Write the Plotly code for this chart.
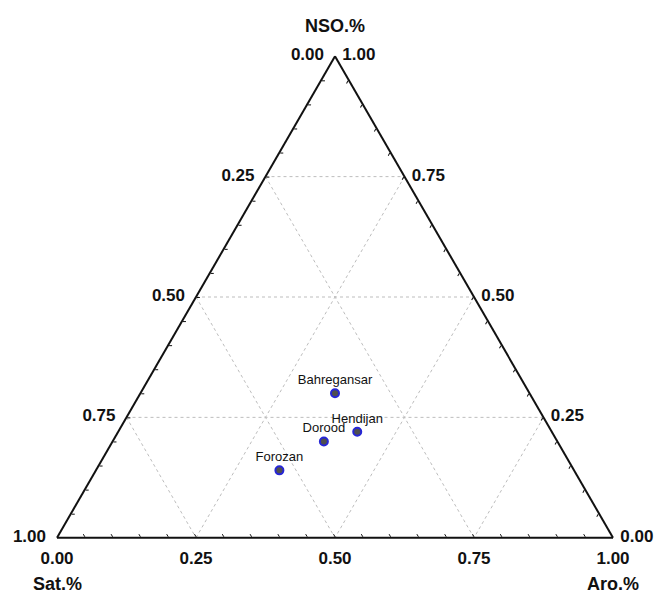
import plotly.graph_objects as go

# Oil fraction composition (fractions of 1)
samples = ["Bahregansar", "Hendijan", "Dorood", "Forozan"]
nso = [0.30, 0.22, 0.20, 0.14]
sat = [0.35, 0.35, 0.42, 0.53]
aro = [0.35, 0.43, 0.38, 0.33]

# Axis scaling
grid_levels = [0.25, 0.50, 0.75]
label_levels = [0.00, 0.25, 0.50, 0.75, 1.00]
tick_step = 0.05

FONT = "Liberation Sans, Arial, sans-serif"
INK = "#111111"
TICK_SIZE = 17

n_ticks = int(round(1 / tick_step)) + 1
tick_vals = [round(i * tick_step, 2) for i in range(n_ticks)]


def tick_labels(pad_before="", pad_after=""):
    out = []
    for v in tick_vals:
        if any(abs(v - q) < 1e-9 for q in label_levels):
            out.append(f"{pad_before}{1 - v:.2f}{pad_after}")
        else:
            out.append("")
    return out


# Dotted grid lines at the quarter levels, one segment per level and axis
ga, gb, gc = [], [], []
for v in grid_levels:
    # constant NSO
    ga += [v, v, None]
    gb += [1 - v, 0, None]
    gc += [0, 1 - v, None]
    # constant Sat
    ga += [1 - v, 0, None]
    gb += [v, v, None]
    gc += [0, 1 - v, None]
    # constant Aro
    ga += [1 - v, 0, None]
    gb += [0, 1 - v, None]
    gc += [v, v, None]

fig = go.Figure()
fig.add_trace(go.Scatterternary(
    a=ga, b=gb, c=gc, mode="lines",
    line=dict(color="#bdbdbd", width=1, dash="dot"),
    hoverinfo="skip", showlegend=False,
))

# Labels along the bottom edge (Aro scale, 0 at the Sat corner)
fig.add_trace(go.Scatterternary(
    a=[0 for _ in label_levels],
    b=[1 - v for v in label_levels],
    c=label_levels,
    text=[f"{v:.2f}" for v in label_levels],
    mode="markers+text", textposition="bottom center",
    textfont=dict(family=FONT, size=TICK_SIZE, color=INK, weight="bold"),
    marker=dict(size=20, opacity=0),
    cliponaxis=False, hoverinfo="skip", showlegend=False,
))

fig.add_trace(go.Scatterternary(
    a=nso, b=sat, c=aro, text=samples,
    mode="markers+text", textposition="top center",
    textfont=dict(family=FONT, size=13, color=INK),
    marker=dict(size=8, color="#4f4f4f", line=dict(color="#2626d6", width=2)),
    showlegend=False,
))


def axis(ticktext, show_labels=True):
    return dict(
        title=dict(text=""),
        tickmode="array", tickvals=tick_vals, ticktext=ticktext,
        ticks="inside", ticklen=3, tickcolor=INK, tickwidth=1,
        showticklabels=show_labels,
        tickfont=dict(family=FONT, size=TICK_SIZE, color=INK, weight="bold"),
        showgrid=False, linecolor=INK, linewidth=2, min=0,
    )


title_font = dict(family=FONT, size=18, color=INK, weight="bold")

fig.update_layout(
    width=656, height=596,
    margin=dict(l=57, r=43, t=56, b=58),
    paper_bgcolor="white",
    ternary=dict(
        sum=1, bgcolor="white",
        aaxis=axis(tick_labels(pad_after="\u2002")),
        baxis=axis(tick_labels(), show_labels=False),
        caxis=axis(tick_labels(pad_before="\u00a0")),
    ),
    annotations=[
        dict(text="NSO.%", x=0.5, y=1, xref="paper", yref="paper",
             xanchor="center", yanchor="middle", yshift=30,
             showarrow=False, font=title_font),
        dict(text="Sat.%", x=0, y=0, xref="paper", yref="paper",
             xanchor="center", yanchor="middle", yshift=-46,
             showarrow=False, font=title_font),
        dict(text="Aro.%", x=1, y=0, xref="paper", yref="paper",
             xanchor="center", yanchor="middle", yshift=-46,
             showarrow=False, font=title_font),
    ],
)

fig.write_html("out.html")
